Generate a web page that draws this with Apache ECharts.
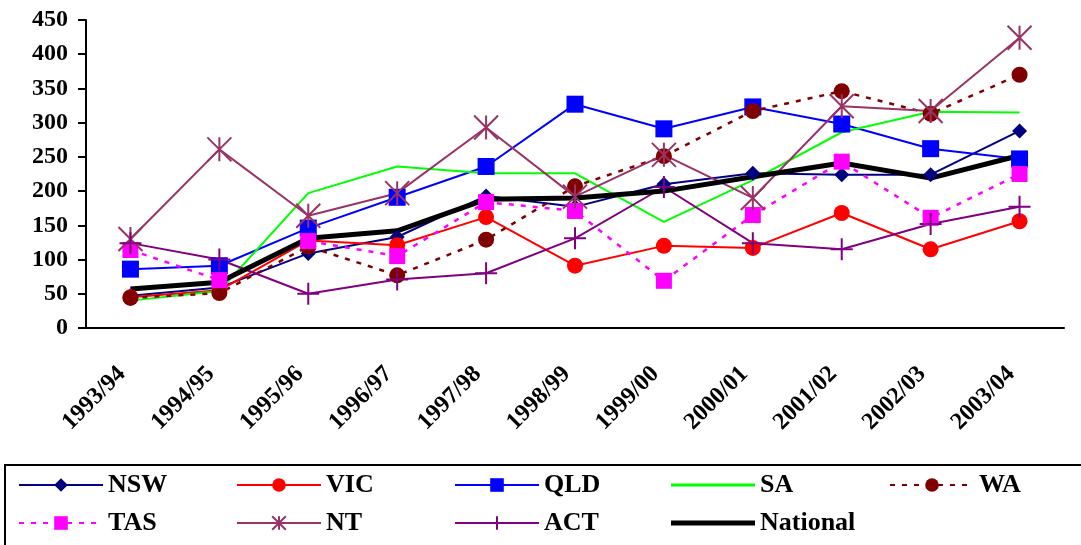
<!DOCTYPE html>
<html><head><meta charset="utf-8">
<script src="https://cdn.jsdelivr.net/npm/echarts@6/dist/echarts.min.js"></script>
<style>html,body{margin:0;padding:0;background:#fff}#c{width:1081px;height:545px}</style>
</head><body><div id="c"></div>
<script>
const categories = ['1993/94','1994/95','1995/96','1996/97','1997/98','1998/99','1999/00','2000/01','2001/02','2002/03','2003/04'];
const NSW = [47, 59, 109, 133, 193, 177, 210, 226, 224, 224, 288];
const VIC = [45, 55, 128, 121, 162, 91, 120, 117, 168, 115, 156];
const QLD = [86, 91, 146, 191, 236, 327, 291, 323, 298, 262, 247];
const SA = [40, 54, 197, 236, 226, 226, 155, 216, 286, 316, 315];
const WA = [44, 51, 119, 77, 129, 207, 251, 317, 346, 313, 370];
const TAS = [114, 70, 127, 105, 184, 171, 69, 165, 243, 161, 225];
const NT = [130, 261, 164, 197, 293, 192, 253, 190, 324, 317, 424];
const ACT = [124, 100, 50, 71, 80, 131, 206, 124, 115, 152, 177];
const National = [57, 67, 131, 142, 188, 190, 200, 221, 241, 219, 252];
const yTicks = {min: 0, max: 450, interval: 50};

const font = '"Liberation Serif", "DejaVu Serif", serif';
const asterisk = 'path://M0,0 L10,10 M10,0 L0,10 M5,0 L5,10';
const plus = 'path://M5,0 L5,10 M0,5 L10,5';

function mk(name, data, color, symbol, size, opts) {
  opts = opts || {};
  const stroke = symbol && symbol.indexOf('path://') === 0;
  return {
    name, type: 'line', data,
    symbol: symbol || 'none', symbolSize: size || 0,
    showSymbol: !!symbol,
    lineStyle: {color, width: opts.width || 2, type: opts.type || 'solid'},
    itemStyle: stroke ? {color: 'none', borderColor: color, borderWidth: 2} : {color, borderWidth: 0},
    emphasis: {disabled: true},
    animation: false
  };
}

const series = [
  mk('NSW', NSW, '#000080', 'diamond', [15, 15]),
  mk('VIC', VIC, '#FF0000', 'circle', 16),
  mk('QLD', QLD, '#0000FF', 'rect', 17),
  mk('SA', SA, '#00FF00', null, 0),
  mk('WA', WA, '#800000', 'circle', 16, {type: [5, 7], width: 2.5}),
  mk('TAS', TAS, '#FF00FF', 'rect', 16, {type: [5, 7], width: 2.5}),
  mk('NT', NT, '#993366', asterisk, 24),
  mk('ACT', ACT, '#800080', plus, 22),
  mk('National', National, '#000000', null, 0, {width: 5})
];

const legendPos = [
  ['NSW', 18, 0], ['VIC', 236, 0], ['QLD', 454, 0], ['SA', 671, 0], ['WA', 889, 0],
  ['TAS', 18, 1], ['NT', 236, 1], ['ACT', 454, 1], ['National', 671, 1]
];
const lineOnly = {SA: ['#00FF00', 3], National: ['#000000', 5]};
const legends = legendPos.map(([n, x, r]) => {
  const lo = lineOnly[n];
  const top = r === 0 ? 472 : 510;
  return {
    data: lo ? [{name: n, icon: 'rect', itemStyle: {color: lo[0]}}] : [n],
    left: x, top: top, padding: 0,
    itemWidth: lo ? 84 : 84, itemHeight: lo ? lo[1] : 17, itemGap: 0, selectedMode: false,
    textStyle: {fontFamily: font, fontWeight: 'bold', fontSize: 26, color: '#000', padding: [0, 0, 0, 0]}
  };
});

const chart = echarts.init(document.getElementById('c'), null, {renderer: 'canvas'});
chart.setOption({
  backgroundColor: '#fff',
  animation: false,
  grid: {left: 86, right: 17, top: 20, bottom: 217, containLabel: false},
  xAxis: {
    type: 'category', data: categories, boundaryGap: true,
    axisLine: {lineStyle: {color: '#000', width: 2}},
    axisTick: {length: 7, lineStyle: {color: '#000', width: 2}},
    axisLabel: {rotate: 45, margin: 34, padding: [0, 12, 0, 0], fontFamily: font, fontWeight: 'bold', fontSize: 24, color: '#000', interval: 0}
  },
  yAxis: {
    type: 'value', min: yTicks.min, max: yTicks.max, interval: yTicks.interval,
    axisLine: {show: true, lineStyle: {color: '#000', width: 2}},
    axisTick: {show: true, length: 8, lineStyle: {color: '#000', width: 2}},
    splitLine: {show: false},
    axisLabel: {margin: 18, fontFamily: font, fontWeight: 'bold', fontSize: 24, color: '#000'}
  },
  legend: legends,
  graphic: [{type: 'rect', shape: {x: 5, y: 465, width: 1090, height: 100}, style: {fill: 'none', stroke: '#000', lineWidth: 2}, silent: true}],
  series
});
</script></body></html>
